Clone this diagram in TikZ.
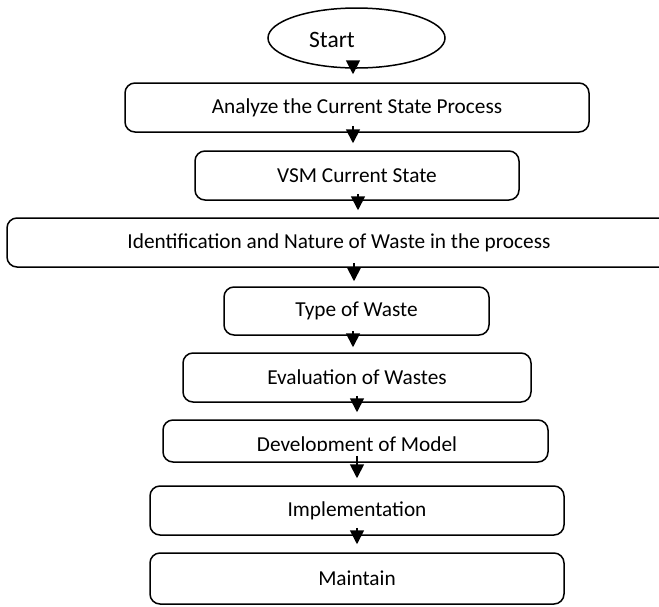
\documentclass[tikz,border=0pt]{standalone}
\usepackage{fontspec}
\setmainfont{Carlito}
\usetikzlibrary{shapes.geometric,arrows.meta}
\tikzset{
  stepbox/.style={draw, line width=1.5pt, rounded corners=10pt, inner sep=0pt,
    font=\fontsize{21.3}{25}\selectfont},
  arr/.style={line width=1.8pt, -{Triangle[length=14pt,width=14pt]}},
  txt/.style={inner sep=0pt, font=\fontsize{21.3}{25}\selectfont}
}
\begin{document}
\begin{tikzpicture}[x=1pt,y=-1pt]
\useasboundingbox (0,0) rectangle (659,606);
\fill[white] (0,0) rectangle (659,606);
\node[draw, ellipse, line width=1.5pt, minimum width=177pt, minimum height=60pt, inner sep=0pt] (start) at (356.5,38) {};
\node[txt, font=\fontsize{23.5}{27}\selectfont] (starttxt) at (332,40) {Start};
\node[stepbox, minimum width=464pt, minimum height=49pt] (b1) at (357,107.5) {Analyze the Current State Process};
\node[stepbox, minimum width=324pt, minimum height=49pt] (b2) at (357,175.5) {VSM Current State};
\node[stepbox, minimum width=664pt, minimum height=49pt] (b3) at (339,242.5) {Identification and Nature of Waste in the process};
\node[stepbox, minimum width=265pt, minimum height=48pt] (b4) at (356.5,311) {Type of Waste};
\node[stepbox, minimum width=348pt, minimum height=49pt] (b5) at (357,377.5) {Evaluation of Wastes};
\node[stepbox, minimum width=385pt, minimum height=42pt] (b6) at (355.5,441) {};
\begin{scope}
\clip (150,415) rectangle (560,450.5);
\node[txt] (b6txt) at (357,446) {Development of Model};
\end{scope}
\node[stepbox, minimum width=414pt, minimum height=49pt] (b7) at (357,510.5) {Implementation};
\node[stepbox, minimum width=414pt, minimum height=51pt] (b8) at (357,578.5) {Maintain};
\draw[arr] ([xshift=-3.5pt,yshift=8pt]start.south) -- ([xshift=-3.5pt,yshift=8pt]start.south |- b1.north);
\draw[arr] ([xshift=-4pt,yshift=7pt]b1.south) -- ([xshift=-4pt,yshift=7pt]b1.south |- b2.north);
\draw[arr] ([xshift=1pt,yshift=7pt]b2.south) -- ([xshift=1pt,yshift=7pt]b2.south |- b3.north);
\draw[arr] ([xshift=15pt,yshift=5pt]b3.south) -- ([xshift=15pt,yshift=5pt]b3.south |- b4.north);
\draw[arr] ([xshift=-3.5pt,yshift=5pt]b4.south) -- ([xshift=-3.5pt,yshift=5pt]b4.south |- b5.north);
\draw[arr] ([xshift=0pt,yshift=7pt]b5.south) -- ([xshift=0pt,yshift=7pt]b5.south |- b6.north);
\draw[arr] ([xshift=1.5pt,yshift=7pt]b6.south) -- ([xshift=1.5pt,yshift=7pt]b6.south |- b7.north);
\draw[arr] ([xshift=0pt,yshift=8pt]b7.south) -- ([xshift=0pt,yshift=8pt]b7.south |- b8.north);
\end{tikzpicture}
\end{document}
